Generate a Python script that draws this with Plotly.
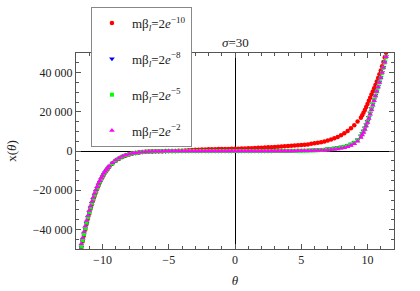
import plotly.graph_objects as go

# ---------------- data ----------------
theta = [
    # steep negative part
    -11.7, -11.6, -11.5, -11.4, -11.3, -11.2, -11.1, -11.0, -10.9, -10.8,
    -10.7, -10.6, -10.5, -10.4, -10.3, -10.2, -10.1, -10.0, -9.9, -9.8,
    -9.7, -9.6, -9.5,
    # middle part
    -9.25, -9.0, -8.75, -8.5, -8.25, -8.0, -7.75, -7.5, -7.25, -7.0,
    -6.75, -6.5, -6.25, -6.0, -5.75, -5.5, -5.25, -5.0, -4.75, -4.5,
    -4.25, -4.0, -3.75, -3.5, -3.25, -3.0, -2.75, -2.5, -2.25, -2.0,
    -1.75, -1.5, -1.25, -1.0, -0.75, -0.5, -0.25, 0.0, 0.25, 0.5,
    0.75, 1.0, 1.25, 1.5, 1.75, 2.0, 2.25, 2.5, 2.75, 3.0,
    3.25, 3.5, 3.75, 4.0, 4.25, 4.5, 4.75, 5.0, 5.25, 5.5,
    5.75, 6.0, 6.25, 6.5, 6.75, 7.0, 7.25, 7.5, 7.75, 8.0,
    8.25, 8.5, 8.75, 9.0, 9.25,
    # steep positive part
    9.5, 9.6, 9.7, 9.8, 9.9, 10.0, 10.1, 10.2, 10.3, 10.4,
    10.5, 10.6, 10.7, 10.8, 10.9, 11.0, 11.1, 11.2, 11.3, 11.4,
    11.5,
]

x_m10 = [  # m beta_l = 2e-10 (red)
    -52500, -49300, -46200, -43200, -40200, -37300, -34600, -32000, -29500, -27200,
    -25000, -23000, -21100, -19300, -17600, -16000, -14600, -13300, -12100, -11000,
    -10000, -9000, -8200,
    -6400, -5000, -3900, -3000, -2300, -1750, -1300, -1000, -740, -550,
    -410, -300, -220, -160, -110, -70, -40, -15, 10, 40,
    90, 180, 300, 420, 530, 620, 690, 750, 800, 850,
    890, 930, 970, 1000, 1030, 1070, 1100, 1150, 1200, 1260,
    1320, 1390, 1460, 1530, 1610, 1690, 1780, 1870, 1960, 2060,
    2160, 2270, 2380, 2500, 2620, 2750, 2880, 3020, 3170, 3330,
    3700, 3950, 4200, 4500, 4850, 5300, 5900, 6500, 7200, 8000,
    9000, 10200, 11600, 13200, 15000,
    17000, 18200, 19500, 20900, 22400, 24000, 25600, 27200, 28800, 30400,
    32000, 33700, 35400, 37200, 39100, 41100, 43200, 45400, 47700, 50100,
    52600,
]

x_m8 = [  # m beta_l = 2e-8 (blue)
    -52200, -49000, -45800, -42700, -39700, -36800, -34100, -31500, -29100, -26800,
    -24600, -22600, -20700, -19000, -17400, -15900, -14500, -13200, -12000, -10900,
    -9900, -9000, -8200,
    -6400, -5000, -3850, -2950, -2250, -1700, -1280, -970, -720, -530,
    -400, -300, -220, -165, -125, -95, -72, -56, -45, -36,
    -28, -22, -17, -13, -10, -8, -6, -5, -4, -3,
    -2, -1, 0, 0, 1, 2, 3, 4, 6, 8,
    10, 13, 17, 21, 26, 32, 40, 50, 62, 76,
    92, 110, 130, 155, 180, 210, 245, 285, 330, 380,
    460, 550, 660, 800, 950, 1100, 1280, 1500, 1750, 2050,
    2450, 2900, 3550, 4500, 5800,
    7700, 8900, 10200, 11700, 13400, 15200, 17200, 19400, 21700, 24000,
    26200, 28400, 30600, 32900, 35200, 37600, 40100, 42700, 45400, 48200,
    51200,
]

x_m5 = [  # m beta_l = 2e-5 (green)
    -52000, -48800, -45600, -42500, -39500, -36600, -33900, -31300, -28900, -26600,
    -24400, -22400, -20500, -18800, -17200, -15700, -14300, -13000, -11800, -10700,
    -9700, -8800, -8000,
    -6300, -4900, -3800, -2900, -2200, -1650, -1250, -950, -700, -520,
    -390, -290, -210, -160, -120, -90, -70, -55, -45, -35,
    -28, -22, -18, -14, -11, -9, -7, -5, -4, -3,
    -2, -1, -1, 0, 0, 0, 0, 0, 0, 1,
    1, 2, 3, 4, 5, 7, 9, 12, 16, 20,
    26, 33, 42, 53, 67, 85, 105, 130, 165, 205,
    255, 320, 400, 500, 620, 770, 950, 1170, 1440, 1770,
    2170, 2660, 3250, 4200, 5500,
    7500, 8700, 10000, 11500, 13200, 15000, 17000, 19200, 21500, 23800,
    26000, 28200, 30400, 32700, 35000, 37400, 39900, 42500, 45200, 48000,
    51000,
]

x_m2 = [  # m beta_l = 2e-2 (magenta)
    -50500, -47300, -44200, -41200, -38300, -35500, -32900, -30400, -28000, -25800,
    -23700, -21700, -19900, -18200, -16600, -15200, -13800, -12600, -11400, -10300,
    -9400, -8500, -7700,
    -6000, -4600, -3550, -2700, -2050, -1530, -1150, -870, -640, -470,
    -350, -260, -190, -145, -110, -82, -62, -48, -38, -30,
    -24, -19, -15, -12, -9, -7, -6, -4, -3, -2,
    -2, -1, -1, 0, 0, 0, 0, 0, 0, 0,
    1, 1, 2, 3, 4, 5, 7, 9, 12, 15,
    19, 24, 30, 38, 48, 60, 75, 92, 115, 145,
    180, 225, 280, 350, 440, 550, 690, 860, 1080, 1360,
    1720, 2200, 2800, 3700, 5000,
    6900, 8100, 9500, 11000, 12700, 14600, 16600, 18800, 21100, 23400,
    25700, 28000, 30300, 32600, 35000, 37400, 40000, 42600, 45300, 48100,
    51000,
]

for s in (x_m10, x_m8, x_m5, x_m2):
    assert len(s) == len(theta), len(s)

series_names = [
    "mβ<sub><i>l</i></sub>=2<i>e</i><sup>−10</sup>",
    "mβ<sub><i>l</i></sub>=2<i>e</i><sup>−8</sup>",
    "mβ<sub><i>l</i></sub>=2<i>e</i><sup>−5</sup>",
    "mβ<sub><i>l</i></sub>=2<i>e</i><sup>−2</sup>",
]
series_values = [x_m10, x_m8, x_m5, x_m2]

x_tick_vals = [-10, -5, 0, 5, 10]
x_tick_text = ["−10", "−5", "0", "5", "10"]
y_tick_vals = [-40000, -20000, 0, 20000, 40000]
y_tick_text = ["−40 000", "−20 000", "0", "20 000", "40 000"]

# ---------------- styles ----------------
colors = ["#ff0000", "#0000ff", "#00ff00", "#ff00ff"]
symbols = ["circle", "triangle-down", "square", "triangle-up"]
sizes = [4.5, 5, 4, 5]
FONT = "Liberation Serif"

fig = go.Figure()
for i in range(4):
    fig.add_trace(go.Scatter(
        x=theta, y=series_values[i], mode="markers", name=series_names[i],
        legendgroup=f"g{i}",
        marker=dict(color=colors[i], symbol=symbols[i], size=sizes[i],
                    line=dict(width=0)),
    ))

axis_common = dict(
    showline=True, linecolor="#555555", linewidth=1, mirror="allticks",
    ticks="inside", ticklen=5, tickcolor="#555555", tickwidth=1,
    showgrid=False, zeroline=True, zerolinecolor="black", zerolinewidth=1,
    tickfont=dict(family=FONT, size=12, color="#222222"),
)

fig.update_layout(
    width=420, height=291,
    margin=dict(l=76, r=26, t=53, b=42, autoexpand=False),
    paper_bgcolor="white", plot_bgcolor="white",
    font=dict(family=FONT, size=13, color="#222222"),
    xaxis=dict(range=[-12, 12], tickvals=x_tick_vals, ticktext=x_tick_text,
               minor=dict(dtick=1, ticks="inside", ticklen=3, tickcolor="#555555"),
               title=dict(text="<i>θ</i>", font=dict(family=FONT, size=13), standoff=9),
               **axis_common),
    yaxis=dict(range=[-50000, 50000], tickvals=y_tick_vals, ticktext=y_tick_text,
               minor=dict(dtick=5000, ticks="inside", ticklen=3, tickcolor="#555555"),
               title=dict(text="x(<i>θ</i>)", font=dict(family=FONT, size=13), standoff=13),
               **axis_common),
    legend=dict(x=0.047, y=1.235, xanchor="left", yanchor="top",
                bgcolor="white", bordercolor="#888888", borderwidth=1,
                font=dict(family=FONT, size=13, color="#222222"),
                tracegroupgap=16),
    showlegend=True,
    annotations=[dict(x=0, y=1, xref="x", yref="paper", xanchor="center",
                      yanchor="bottom", text="<i>σ</i>=30", showarrow=False,
                      font=dict(family=FONT, size=13, color="#222222"), yshift=1)],
)

fig.write_html("out.html", config={"displayModeBar": False},
               post_script="document.body.style.margin='0';")
